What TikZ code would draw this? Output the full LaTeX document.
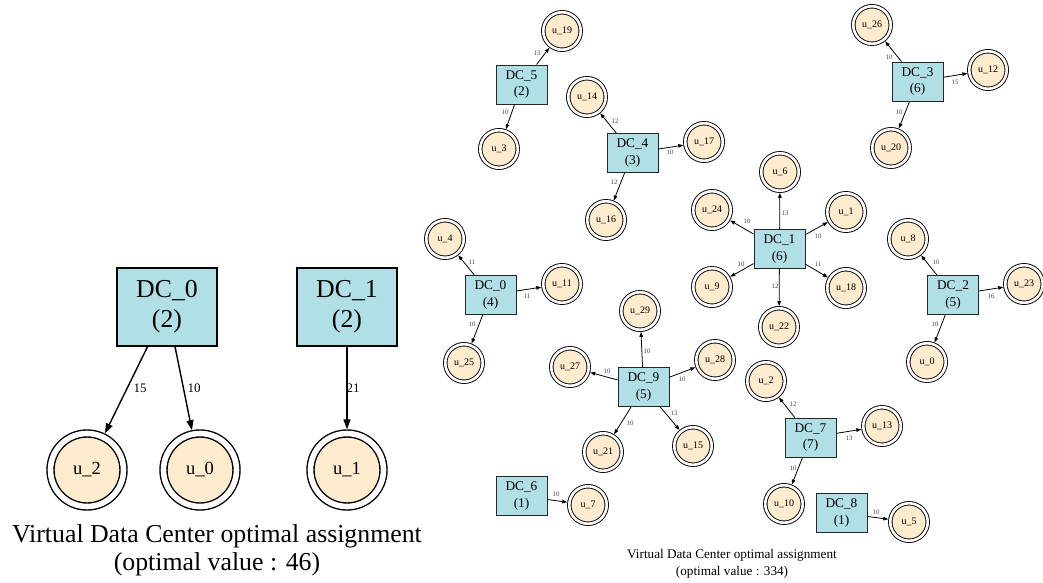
\documentclass[tikz,border=0pt]{standalone}
\usepackage{fontspec}
\setmainfont{Liberation Serif}
\usetikzlibrary{arrows.meta}
\definecolor{boxblue}{HTML}{B0E0E6}
\definecolor{bisq}{HTML}{FFEBCD}
\tikzset{
  dcL/.style={rectangle, draw=black, line width=1.3pt, fill=boxblue, minimum width=100pt, minimum height=78pt, inner sep=0pt, align=center, font=\fontsize{25.8}{30}\selectfont},
  uL/.style={circle, draw=black, line width=1.4pt, double=white, double distance=5.6pt, fill=bisq, minimum size=73pt, inner sep=0pt, outer sep=4.2pt, font=\fontsize{18.5}{22}\selectfont},
  dcS/.style={rectangle, draw=black!85, line width=0.9pt, fill=boxblue, minimum width=51pt, minimum height=39pt, inner sep=0pt, align=center, font=\fontsize{13.3}{16.5}\selectfont},
  uS/.style={circle, draw=black, line width=0.9pt, double=white, double distance=2.6pt, fill=bisq, minimum size=37.5pt, inner sep=0pt, outer sep=2.2pt, font=\fontsize{10}{12}\selectfont},
  eL/.style={draw=black, line width=1.4pt, -{Triangle[length=10pt,width=7pt]}},
  eS/.style={draw=black, line width=0.8pt, -{Triangle[length=5pt,width=3.6pt]}},
  lL/.style={inner sep=0pt, font=\fontsize{13}{15}\selectfont},
  lS/.style={inner sep=0pt, text=black!75, font=\fontsize{6.8}{8}\selectfont},
  capL/.style={align=center, inner sep=0pt, font=\fontsize{25.8}{28}\selectfont},
  capS/.style={align=center, inner sep=0pt, font=\fontsize{13.2}{17.5}\selectfont},
}
\newcommand{\edL}[5]{\draw[eL] (#1) -- (#2); \node[lL] (lab-#1-#2) at (#3,#4) {#5};}
\newcommand{\edS}[5]{\draw[eS] (#1) -- (#2); \node[lS] (lab-#1-#2) at (#3,#4) {#5};}
\begin{document}
\begin{tikzpicture}[x=1pt,y=-1pt]
\useasboundingbox (0,0) rectangle (1043,583);
% ---------- left graph ----------
\node[dcL] (L-d0) at (167,307) {DC\_0\\(2)};
\node[dcL] (L-d1) at (347,307) {DC\_1\\(2)};
\node[uL] (L-u2) at (87,470) {u\_2};
\node[uL] (L-u0) at (200,470) {u\_0};
\node[uL] (L-u1) at (347,470) {u\_1};
\edL{L-d0}{L-u2}{140}{388}{15}
\edL{L-d0}{L-u0}{194}{388}{10}
\edL{L-d1}{L-u1}{353}{388}{21}
\node[capL] (capleft) at (217,550) {Virtual Data Center optimal assignment\\(optimal value : 46)};
% ---------- right graph ----------
\node[dcS] (d5) at (521.5,84.5) {DC\_5\\(2)};
\node[dcS] (d4) at (632.5,153) {DC\_4\\(3)};
\node[dcS] (d3) at (917.5,81.5) {DC\_3\\(6)};
\node[dcS] (d1) at (779.5,249) {DC\_1\\(6)};
\node[dcS] (d0) at (490.5,295) {DC\_0\\(4)};
\node[dcS] (d2) at (953,295) {DC\_2\\(5)};
\node[dcS] (d9) at (643.5,387) {DC\_9\\(5)};
\node[dcS] (d6) at (521.5,496) {DC\_6\\(1)};
\node[dcS] (d7) at (810.5,437.5) {DC\_7\\(7)};
\node[dcS] (d8) at (841.5,513) {DC\_8\\(1)};
\node[uS] (u19) at (562,31) {u\_19};
\node[uS] (u3) at (499,149) {u\_3};
\node[uS] (u14) at (587,97) {u\_14};
\node[uS] (u17) at (704,142) {u\_17};
\node[uS] (u16) at (606,220) {u\_16};
\node[uS] (u26) at (872,25) {u\_26};
\node[uS] (u12) at (988,70) {u\_12};
\node[uS] (u20) at (891,148) {u\_20};
\node[uS] (u6) at (780,172) {u\_6};
\node[uS] (u24) at (712,210) {u\_24};
\node[uS] (u1) at (846,212) {u\_1};
\node[uS] (u9) at (712,287) {u\_9};
\node[uS] (u18) at (846,288) {u\_18};
\node[uS] (u22) at (779,327) {u\_22};
\node[uS] (u4) at (445,239) {u\_4};
\node[uS] (u11) at (562,284) {u\_11};
\node[uS] (u25) at (464,363) {u\_25};
\node[uS] (u29) at (640,311) {u\_29};
\node[uS] (u27) at (570,367) {u\_27};
\node[uS] (u28) at (715,360) {u\_28};
\node[uS] (u21) at (603,452) {u\_21};
\node[uS] (u15) at (693,446) {u\_15};
\node[uS] (u7) at (588,505) {u\_7};
\node[uS] (u8) at (908,239) {u\_8};
\node[uS] (u23) at (1024,284) {u\_23};
\node[uS] (u0) at (927,362) {u\_0};
\node[uS] (u2) at (766,381) {u\_2};
\node[uS] (u13) at (882,426) {u\_13};
\node[uS] (u10) at (784,504) {u\_10};
\node[uS] (u5) at (909,522) {u\_5};
\edS{d5}{u19}{537}{53}{13}
\edS{d5}{u3}{505}{112}{10}
\edS{d4}{u14}{615}{121}{12}
\edS{d4}{u17}{670}{152}{10}
\edS{d4}{u16}{614}{182}{12}
\edS{d3}{u26}{889}{57}{10}
\edS{d3}{u12}{955}{82}{15}
\edS{d3}{u20}{899}{112}{10}
\edS{d1}{u6}{785}{213}{13}
\edS{d1}{u24}{747}{221}{10}
\edS{d1}{u1}{818}{236}{10}
\edS{d1}{u9}{741}{264}{10}
\edS{d1}{u18}{818}{264}{11}
\edS{d1}{u22}{775}{286}{12}
\edS{d0}{u4}{472}{262}{11}
\edS{d0}{u11}{527}{296}{11}
\edS{d0}{u25}{472}{324}{10}
\edS{d9}{u29}{647}{351}{10}
\edS{d9}{u27}{607}{371}{10}
\edS{d9}{u28}{682}{379}{10}
\edS{d9}{u21}{630}{423}{10}
\edS{d9}{u15}{674}{413}{13}
\edS{d6}{u7}{556}{494}{10}
\edS{d2}{u8}{936}{262}{10}
\edS{d2}{u23}{991}{296}{16}
\edS{d2}{u0}{935}{324}{10}
\edS{d7}{u2}{793}{404}{12}
\edS{d7}{u13}{849}{438}{13}
\edS{d7}{u10}{793}{468}{10}
\edS{d8}{u5}{876}{512}{10}
\node[capS] (capright) at (732,564) {Virtual Data Center optimal assignment\\(optimal value : 334)};
\end{tikzpicture}
\end{document}
